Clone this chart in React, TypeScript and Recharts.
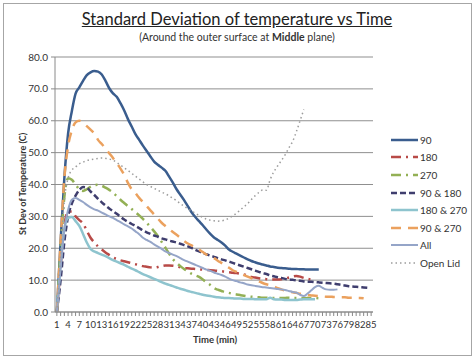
import React from 'react';
import { LineChart, Line, XAxis, YAxis, CartesianGrid } from 'recharts';

const FONT = 'Lato, "Liberation Sans", sans-serif';

const TIME = [
  1, 2, 3, 4, 5, 6, 7, 8, 9, 10, 11, 12, 13, 14, 15, 16, 17, 18, 19, 20,
  21, 22, 23, 24, 25, 26, 27, 28, 29, 30, 31, 32, 33, 34, 35, 36, 37, 38, 39, 40,
  41, 42, 43, 44, 45, 46, 47, 48, 49, 50, 51, 52, 53, 54, 55, 56, 57, 58, 59, 60,
  61, 62, 63, 64, 65, 66, 67, 68, 69, 70, 71, 72, 73, 74, 75, 76, 77, 78, 79, 80,
  81, 82, 83, 84, 85,
];

const S90 = [
  0, 22, 42, 56, 63, 68.5, 70.5, 72.5, 74.3, 75.2,
  75.6, 75.4, 74.5, 72.5, 70.2, 68.6, 67.5, 65.5, 63.2, 60.5,
  58.2, 55.8, 54, 52.2, 50.5, 48.8, 47.2, 46.2, 45.3, 44.3,
  42.5, 40.6, 38.5, 36.8, 35.1, 33.2, 31.3, 29.8, 28.5, 27.2,
  25.8, 24.5, 23.4, 22.6, 21.8, 20.8, 19.6, 18.9, 18.3, 17.7,
  17.1, 16.5, 16, 15.6, 15.2, 14.9, 14.6, 14.3, 14.1, 13.9,
  13.8, 13.7, 13.6, 13.5, 13.5, 13.4, 13.4, 13.3, 13.3, 13.3,
  13.3,
];

const S180 = [
  0, 14, 27, 31.5, 31.5, 30, 28.8, 27.8, 25.5, 23.3,
  21.8, 20.6, 19.6, 18.7, 17.9, 17.1, 16.6, 16.2, 15.9, 15.6,
  15.3, 15, 14.7, 14.4, 14.2, 14, 13.9, 14.1, 14.4, 14.6,
  14.6, 14.5, 14.3, 14, 13.8, 13.7, 13.6, 13.5, 13.4, 13.3,
  13.2, 13.1, 13, 12.9, 12.8, 12.6, 12.5, 12.3, 12.2, 12,
  11.8, 11.4, 11, 10.8, 10.6, 10.4, 10.3, 10.2, 10.2, 10.2,
  10.3, 10.5, 10.8, 11.1, 11.3, 11.1, 10.7, 10.4, 10.2,
];

const S270 = [
  0, 20, 36, 42, 41.5, 40, 38.5, 38, 38.5, 39.3,
  39.8, 39.9, 39.6, 39, 38.3, 37.5, 36.3, 35.2, 34.2, 33.2,
  32.3, 31.3, 30.3, 29.2, 28, 26.7, 25.3, 23.8, 22, 20.2,
  18.3, 16.6, 15.4, 14.4, 13.5, 12.7, 12, 11.5, 11, 10.2,
  9.3, 8.5, 7.5, 7, 6.6, 6.2, 6, 5.7, 5.5, 5.3,
  5.1, 4.9, 4.8, 4.7, 4.6, 4.5, 4.5, 4.4, 4.4, 4.4,
  4.4, 4.4, 4.5, 4.4, 4.4, 4.3, 4.3, 4.4, 4.4, 4.4,
  4.3, 4.3,
];

const S90_180 = [
  0, 10, 22, 30, 34, 36.5, 38.3, 39.2, 39, 37.8,
  36.7, 35.5, 34.4, 33.4, 32.5, 31.6, 30.8, 29.9, 29, 28.3,
  27.6, 27, 26.3, 25.6, 25, 24.5, 24, 23.6, 23.1, 22.8,
  22.4, 22.1, 21.8, 21.4, 21, 20.6, 20.1, 19.5, 19, 18.5,
  18.1, 17.7, 17.3, 16.9, 16.5, 16.2, 15.8, 15.4, 15, 14.6,
  14.2, 13.8, 13.4, 13, 12.6, 12.2, 11.9, 11.5, 11.2, 10.9,
  10.7, 10.4, 10.2, 10.1, 9.9, 9.8, 9.6, 9.5, 9.5, 9.4,
  9.3, 9.2, 9.1, 9, 8.9, 8.7, 8.5, 8.3, 8.1, 8,
  7.9, 7.8, 7.7, 7.6,
];

const S180_270 = [
  0, 15, 26, 29.5, 29.8, 28.5, 27, 24.5, 21.8, 19.8,
  19, 18.5, 18, 17.5, 16.9, 16.3, 15.8, 15.3, 14.8, 14.2,
  13.6, 13.1, 12.5, 11.9, 11.4, 10.9, 10.4, 9.9, 9.4, 8.9,
  8.5, 8.1, 7.7, 7.3, 7, 6.6, 6.3, 6, 5.7, 5.4,
  5.2, 5, 4.8, 4.6, 4.5, 4.4, 4.4, 4.3, 4.2, 4.2,
  4.1, 4.1, 4.1, 4, 4, 4, 4, 4.5, 4, 3.9,
  3.9, 3.8, 3.8, 3.8, 3.8, 3.9, 4, 4, 4, 4,
];

const S90_270 = [
  0, 22, 42, 52, 57, 59.5, 60, 59.3, 58.3, 57.2,
  56, 54, 52.7, 51.3, 49.8, 48.3, 46.7, 45, 43, 40.5,
  38.5, 37.3, 35.8, 34.5, 33.2, 31.9, 30.6, 29.3, 28, 27,
  26, 25.1, 24.2, 23.3, 22.3, 21.5, 20.9, 20.3, 19.6, 18.8,
  18, 17.4, 16.9, 16.1, 15.4, 14.7, 13.9, 13.1, 12.6, 12.1,
  11.6, 11.1, 10.6, 10.1, 9.6, 9.1, 8.7, 8.4, 8, 7.5,
  7.1, 6.7, 6.4, 6.2, 6, 5.7, 5.5, 5.3, 5.2, 5.1,
  5, 4.9, 4.8, 4.8, 4.7, 4.7, 4.6, 4.6, 4.5, 4.5,
  4.4, 4.4, 4.3,
];

const S_ALL = [
  0, 14, 26, 32, 35.2, 35.8, 35.2, 34.5, 33.6, 32.8,
  32.2, 31.8, 31.2, 30.6, 30, 29.5, 28.8, 28.2, 27.5, 26.9,
  26.2, 25.3, 24.4, 23.3, 22.6, 22, 21.2, 20.5, 19.8, 19,
  18.5, 18, 17.5, 16.9, 16.3, 15.8, 15.3, 14.8, 14.3, 13.8,
  13.3, 12.9, 12.4, 12, 11.6, 11.1, 10.5, 10, 9.7, 9.3,
  9, 8.6, 8.4, 8.2, 8, 7.8, 7.7, 7.5, 7.4, 7.2,
  7.1, 6.9, 6.6, 6.3, 6.1, 5.4, 5, 5.8, 6.8, 7.8,
  8.2, 7.6, 7.1, 7, 7, 7.1,
];

const S_OPEN = [
  0, 18, 35, 42, 44.5, 45.5, 46.5, 47, 47.5, 47.8,
  48, 48.2, 48.3, 48.2, 48, 47.6, 46.9, 46.1, 45.2, 44.4,
  43.5, 42.6, 41.7, 40.8, 40, 39.4, 38.8, 38.2, 37.6, 37.1,
  36.4, 35.7, 34.9, 34, 33.2, 32.4, 31.7, 31, 30.3, 29.7,
  29.1, 28.8, 28.6, 28.5, 28.6, 28.9, 29.5, 30.2, 31, 32,
  33, 34, 35.3, 36.5, 37.5, 38.3, 38.2, 41.5, 44, 45.8,
  47.5, 49.3, 51.5, 53.5, 56.5, 60, 63.5,
];

const Y_TICKS = [0, 10, 20, 30, 40, 50, 60, 70, 80];

const SERIES = [
  { key: 's90', name: '90', values: S90, color: '#3A5D8E', width: 2.5, dash: undefined },
  { key: 's180', name: '180', values: S180, color: '#B84A47', width: 2.5, dash: '10 5 2 5' },
  { key: 's270', name: '270', values: S270, color: '#93B055', width: 2.5, dash: '10 5 2 5' },
  { key: 's90_180', name: '90 & 180', values: S90_180, color: '#3F3E6E', width: 2.5, dash: '6 3' },
  { key: 's180_270', name: '180 & 270', values: S180_270, color: '#8EC4CE', width: 2.5, dash: undefined },
  { key: 's90_270', name: '90 & 270', values: S90_270, color: '#EBA15E', width: 2.5, dash: '10 7' },
  { key: 'sAll', name: 'All', values: S_ALL, color: '#95A5C8', width: 2, dash: undefined },
  { key: 'sOpen', name: 'Open Lid', values: S_OPEN, color: '#9C9C9C', width: 1.5, dash: '1.5 3' },
];

const data = TIME.map((t, i) => {
  const row: Record<string, number | undefined> = { time: t };
  SERIES.forEach((s) => {
    row[s.key] = s.values[i];
  });
  return row;
});

const XTick = (props: any) => {
  const { x, y, payload } = props;
  if ((Number(payload.value) - 1) % 3 !== 0) return null;
  return (
    <text x={x} y={y + 10} textAnchor="middle" fontSize={9.5} fill="#333" fontFamily={FONT}>
      {payload.value}
    </text>
  );
};

function LegendBox() {
  return (
    <div style={{ position: 'absolute', left: 390, top: 131, fontFamily: FONT, fontSize: 10, color: '#333' }}>
      {SERIES.map((s) => (
        <div key={s.key} style={{ display: 'flex', alignItems: 'center', height: 17.6 }}>
          <svg width={29} height={6}>
            <line x1={1} y1={3} x2={28} y2={3} stroke={s.color} strokeWidth={s.width} strokeDasharray={s.dash} />
          </svg>
          <span style={{ marginLeft: 1 }}>{s.name}</span>
        </div>
      ))}
    </div>
  );
}

export default function App() {
  return (
    <div style={{ position: 'absolute', left: 0, top: 0, width: 474, height: 359, background: '#fff', fontFamily: FONT }}>
      <div style={{ position: 'absolute', left: 3, top: 3, width: 467, height: 351, border: '1px solid #a6a6a6' }} />
      <div style={{ position: 'absolute', left: 0, top: 9, width: 474, textAlign: 'center', fontSize: 16.5, color: '#222', textDecoration: 'underline' }}>
        Standard Deviation of temperature vs Time
      </div>
      <div style={{ position: 'absolute', left: 0, top: 31, width: 474, textAlign: 'center', fontSize: 10.5, color: '#333' }}>
        (Around the outer surface at <b>Middle</b> plane)
      </div>
      <LineChart width={474} height={359} data={data} margin={{ top: 57, right: 101, left: 10, bottom: 27 }}>
        <CartesianGrid vertical={false} stroke="#8f8f8f" strokeWidth={1} />
        <XAxis
          dataKey="time"
          type="category"
          interval={0}
          tick={XTick}
          tickSize={4}
          tickLine={{ stroke: '#8a8a8a' }}
          axisLine={{ stroke: '#8a8a8a' }}
          padding={{ left: 1.87, right: 1.87 }}
          height={20}
        />
        <YAxis
          domain={[0, 80]}
          ticks={Y_TICKS}
          interval={0}
          tickFormatter={(v: number) => v.toFixed(1)}
          tick={{ fontSize: 10, fill: '#333', fontFamily: FONT }}
          tickSize={4}
          tickMargin={3}
          tickLine={{ stroke: '#8a8a8a' }}
          axisLine={{ stroke: '#8a8a8a' }}
          width={45}
        />
        {SERIES.map((s) => (
          <Line
            key={s.key}
            dataKey={s.key}
            name={s.name}
            type="monotone"
            stroke={s.color}
            strokeWidth={s.width}
            strokeDasharray={s.dash}
            dot={false}
            activeDot={false}
            isAnimationActive={false}
          />
        ))}
      </LineChart>
      <svg width={474} height={359} style={{ position: 'absolute', left: 0, top: 0, pointerEvents: 'none' }}>
        <text x={22} y={184} transform="rotate(-90 22 184)" textAnchor="middle" dominantBaseline="central" fontSize={9} fontWeight="bold" fill="#333" fontFamily={FONT}>
          St Dev of Temperature (C)
        </text>
        <text x={215} y={339} textAnchor="middle" dominantBaseline="central" fontSize={9.5} fontWeight="bold" fill="#333" fontFamily={FONT}>
          Time (min)
        </text>
      </svg>
      <LegendBox />
    </div>
  );
}
